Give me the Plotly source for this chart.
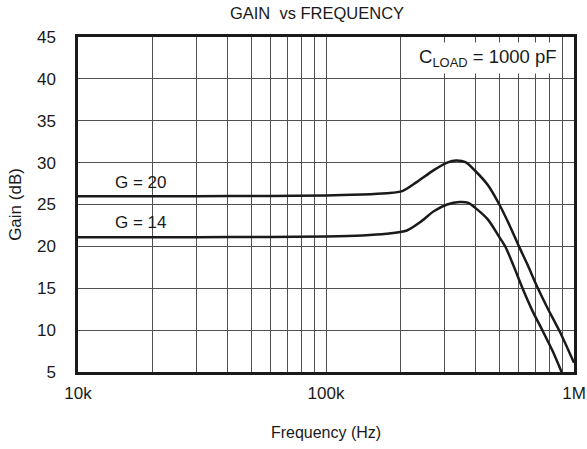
import plotly.graph_objects as go

# Frequency (Hz) and gain (dB)
freq_g20 = [1e4, 3e4, 6e4, 1e5, 1.4e5, 1.75e5, 2.03e5, 2.33e5, 2.72e5, 3.08e5, 3.35e5,
            3.65e5, 4.0e5, 4.5e5, 5.0e5, 5.5e5, 6.0e5, 6.5e5, 7.0e5, 7.8e5, 8.77e5, 1e6]
gain_g20 = [26.0, 26.0, 26.02, 26.08, 26.2, 26.35, 26.6, 27.7, 29.1, 30.0, 30.25,
            30.05, 29.0, 27.3, 25.0, 22.5, 20.0, 17.8, 15.6, 12.7, 9.8, 6.1]

freq_g14 = [1e4, 3e4, 6e4, 1e5, 1.4e5, 1.75e5, 2.12e5, 2.4e5, 2.72e5, 3.08e5, 3.45e5,
            3.75e5, 4.0e5, 4.5e5, 5.0e5, 5.3e5, 5.7e5, 6.2e5, 6.8e5, 7.45e5, 8.2e5, 8.91e5]
gain_g14 = [21.1, 21.1, 21.12, 21.18, 21.3, 21.5, 21.9, 22.9, 24.2, 25.0, 25.3,
            25.2, 24.6, 23.2, 21.1, 19.9, 17.7, 15.0, 12.3, 10.0, 7.5, 5.0]

x_tickvals = [1e4 * m for m in range(1, 10)] + [1e5 * m for m in range(1, 10)] + [1e6]
x_ticktext = ["10k"] + [""] * 8 + ["100k"] + [""] * 8 + ["1M"]
y_tickvals = [5, 10, 15, 20, 25, 30, 35, 40, 45]

FONT = "Liberation Sans, Arial, Helvetica, sans-serif"
INK = "#1a1a1a"

fig = go.Figure()
for f, g in ((freq_g20, gain_g20), (freq_g14, gain_g14)):
    fig.add_trace(go.Scatter(x=f, y=g, mode="lines",
                             line=dict(color=INK, width=2.5, shape="spline", smoothing=0.8),
                             showlegend=False, hoverinfo="skip"))

fig.update_layout(
    width=587, height=449,
    margin=dict(l=78, r=13, t=37, b=77),
    paper_bgcolor="white", plot_bgcolor="white",
    font=dict(family=FONT, size=17, color=INK),
    title=dict(text="GAIN  vs FREQUENCY", x=0.54, xanchor="center",
               y=0.971, yanchor="middle", font=dict(size=16.5)),
    xaxis=dict(type="log", range=[4, 6], tickvals=x_tickvals, ticktext=x_ticktext,
               showgrid=True, gridcolor="#505050", gridwidth=1,
               showline=True, linecolor=INK, linewidth=2.5, mirror=True,
               ticks="", ticklabelstandoff=4, automargin=False,
               tickfont=dict(size=17),
               title=dict(text="Frequency (Hz)", standoff=25, font=dict(size=16)),
               zeroline=False),
    yaxis=dict(range=[5, 45], tickvals=y_tickvals,
               showgrid=True, gridcolor="#505050", gridwidth=1,
               showline=True, linecolor=INK, linewidth=2.5, mirror=True,
               ticks="", ticklabelstandoff=16, automargin=False,
               tickfont=dict(size=17),
               title=dict(text="Gain (dB)", standoff=11, font=dict(size=17)),
               zeroline=False),
    annotations=[
        dict(text="G = 20", x=0.128, y=0.566, xref="paper", yref="paper",
             showarrow=False, xanchor="center", yanchor="middle", font=dict(size=17)),
        dict(text="G = 14", x=0.128, y=0.447, xref="paper", yref="paper",
             showarrow=False, xanchor="center", yanchor="middle", font=dict(size=17)),
        dict(text="C<sub>LOAD</sub> = 1000 pF", x=0.826, y=0.936, xref="paper", yref="paper",
             showarrow=False, xanchor="center", yanchor="middle", font=dict(size=18.5),
             bgcolor="white", borderpad=3),
    ],
)

fig.write_html("out.html", config={"displayModeBar": False},
               post_script="document.body.style.margin='0';")
